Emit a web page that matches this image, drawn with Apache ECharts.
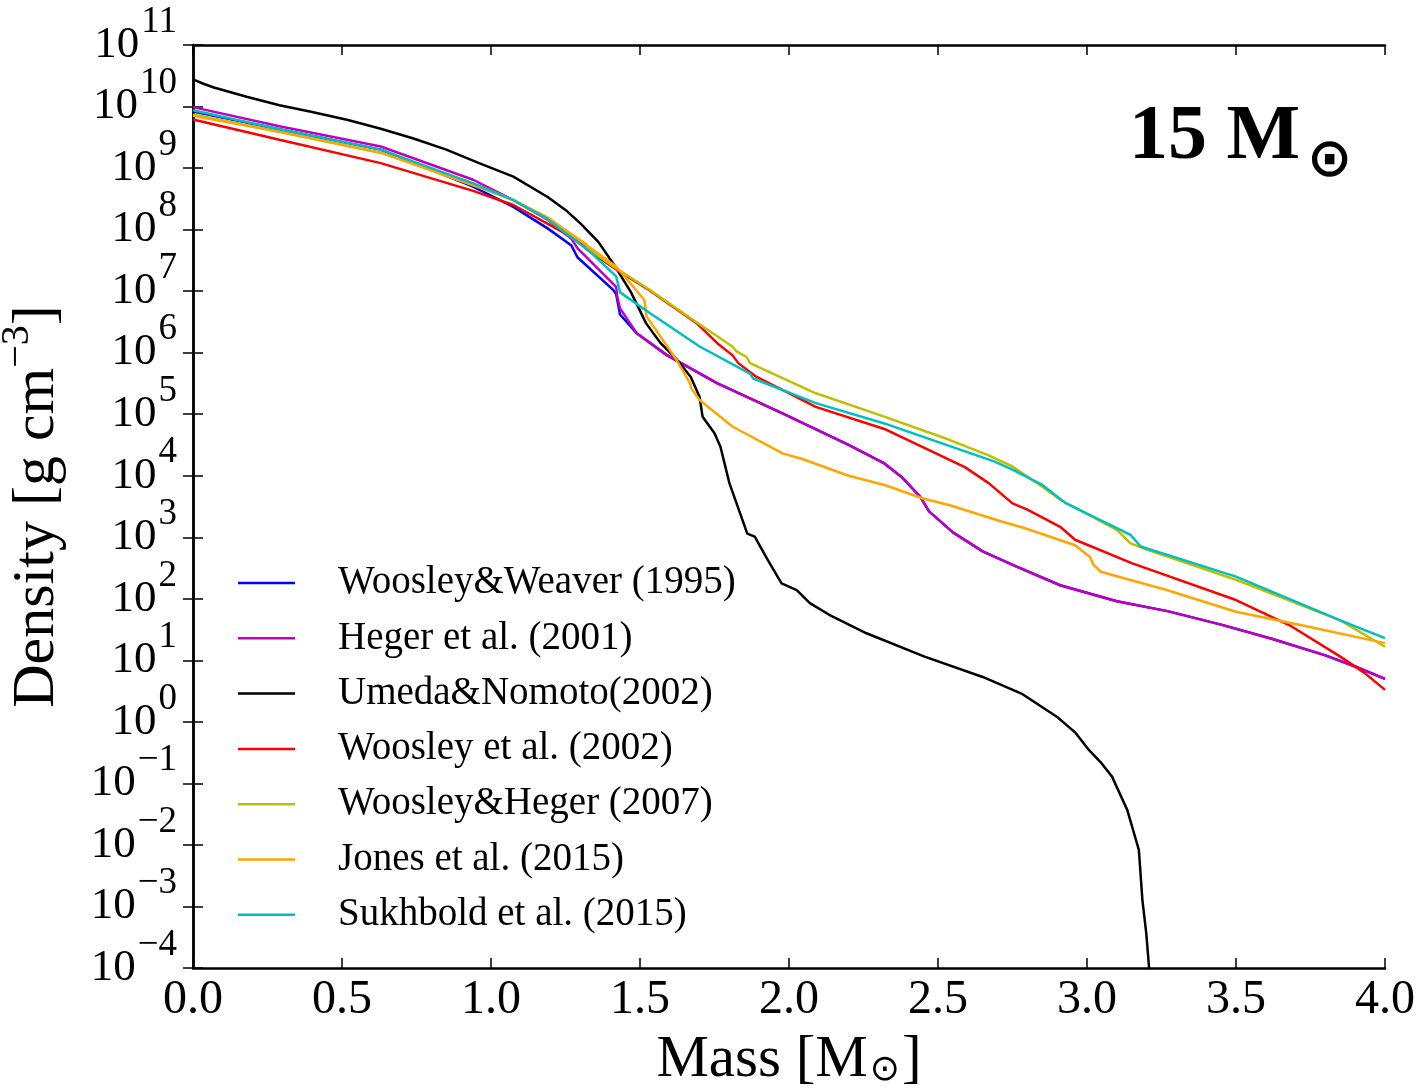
<!DOCTYPE html>
<html>
<head>
<meta charset="utf-8">
<script src="https://cdn.jsdelivr.net/npm/echarts@6/dist/echarts.min.js"></script>
<style>
html,body{margin:0;padding:0;background:#fff;}
#chart{width:1428px;height:1088px;}
</style>
</head>
<body>
<div id="chart"></div>
<script>
// ---- Data (mass in Msun, log10 of density in g cm^-3) ----
const seriesNames = ['Woosley&Weaver (1995)', 'Heger et al. (2001)', 'Umeda&Nomoto(2002)',
  'Woosley et al. (2002)', 'Woosley&Heger (2007)', 'Jones et al. (2015)', 'Sukhbold et al. (2015)'];
const seriesColors = ['#0000ff', '#bf00bf', '#000000', '#ff0000', '#bfbf00', '#ffa500', '#00bfbf'];

const ww95Mass = [0, 0.29, 0.63, 0.94, 1.075, 1.19, 1.27, 1.29, 1.41, 1.42, 1.433, 1.49, 1.59, 1.76, 1.98, 2.2, 2.32, 2.38, 2.44, 2.47, 2.55, 2.65, 2.76, 2.91, 3.1, 3.27, 3.45, 3.62, 3.8, 3.9, 4.0];
const ww95LogRho = [9.92, 9.63, 9.30, 8.70, 8.37, 8.02, 7.74, 7.55, 7.02, 6.95, 6.62, 6.31, 5.96, 5.50, 5.01, 4.50, 4.20, 3.97, 3.66, 3.42, 3.08, 2.77, 2.53, 2.22, 1.96, 1.80, 1.58, 1.35, 1.08, 0.90, 0.70];

const h01Mass = [0, 0.29, 0.63, 0.94, 1.075, 1.19, 1.27, 1.29, 1.42, 1.424, 1.433, 1.49, 1.59, 1.76, 1.98, 2.2, 2.32, 2.38, 2.44, 2.47, 2.55, 2.65, 2.76, 2.91, 3.1, 3.27, 3.45, 3.62, 3.8, 3.9, 4.0];
const h01LogRho = [9.99, 9.68, 9.35, 8.81, 8.48, 8.16, 7.85, 7.70, 7.07, 6.90, 6.72, 6.31, 5.96, 5.50, 5.01, 4.50, 4.20, 3.97, 3.66, 3.42, 3.08, 2.77, 2.53, 2.22, 1.96, 1.80, 1.58, 1.35, 1.08, 0.90, 0.70];

const un02Mass = [0, 0.035, 0.07, 0.18, 0.29, 0.40, 0.52, 0.63, 0.74, 0.85, 0.96, 1.075, 1.19, 1.25, 1.30, 1.36, 1.41, 1.47, 1.52, 1.57, 1.62, 1.67, 1.70, 1.71, 1.75, 1.77, 1.80, 1.86, 1.885, 1.93, 1.975, 2.026, 2.07, 2.135, 2.26, 2.455, 2.65, 2.78, 2.90, 2.96, 3.007, 3.05, 3.084, 3.135, 3.174, 3.186, 3.199, 3.208, 3.215];
const un02LogRho = [10.44, 10.37, 10.31, 10.16, 10.02, 9.91, 9.78, 9.64, 9.48, 9.30, 9.08, 8.86, 8.53, 8.32, 8.10, 7.80, 7.45, 6.98, 6.48, 6.15, 5.91, 5.61, 5.28, 4.96, 4.69, 4.47, 3.88, 3.06, 3.01, 2.62, 2.25, 2.14, 1.93, 1.74, 1.44, 1.06, 0.73, 0.46, 0.08, -0.17, -0.46, -0.68, -0.89, -1.43, -2.08, -2.90, -3.44, -3.98, -5.0];

const w02Mass = [0, 0.29, 0.63, 0.94, 1.075, 1.20, 1.30, 1.32, 1.43, 1.53, 1.69, 1.76, 1.81, 1.83, 1.89, 2.09, 2.32, 2.59, 2.67, 2.75, 2.80, 2.91, 2.96, 3.15, 3.5, 3.68, 3.85, 3.93, 4.0];
const w02LogRho = [9.79, 9.46, 9.08, 8.63, 8.40, 8.07, 7.80, 7.68, 7.32, 7.02, 6.48, 6.15, 5.96, 5.83, 5.61, 5.12, 4.76, 4.14, 3.88, 3.55, 3.45, 3.17, 2.96, 2.58, 1.98, 1.57, 1.06, 0.80, 0.52];

const wh07Mass = [0, 0.29, 0.63, 0.94, 1.075, 1.19, 1.32, 1.335, 1.42, 1.53, 1.67, 1.81, 1.824, 1.858, 1.869, 2.09, 2.32, 2.54, 2.67, 2.75, 2.85, 2.91, 3.1, 3.146, 3.205, 3.5, 3.85, 4.0];
const wh07LogRho = [9.87, 9.59, 9.25, 8.75, 8.48, 8.18, 7.76, 7.66, 7.37, 7.03, 6.56, 6.10, 6.02, 5.93, 5.83, 5.34, 4.96, 4.58, 4.33, 4.15, 3.82, 3.61, 3.12, 2.90, 2.79, 2.31, 1.65, 1.22];

const j15Mass = [0, 0.29, 0.63, 0.94, 1.075, 1.19, 1.42, 1.514, 1.518, 1.522, 1.623, 1.668, 1.672, 1.70, 1.81, 1.98, 2.04, 2.2, 2.32, 2.45, 2.54, 2.71, 2.79, 2.96, 3.01, 3.022, 3.046, 3.27, 3.5, 3.74, 4.0];
const j15LogRho = [9.85, 9.59, 9.25, 8.72, 8.48, 8.20, 7.40, 6.86, 6.75, 6.59, 5.88, 5.50, 5.42, 5.23, 4.80, 4.36, 4.28, 4.00, 3.85, 3.63, 3.52, 3.26, 3.15, 2.87, 2.68, 2.55, 2.44, 2.14, 1.79, 1.55, 1.28];

const s15Mass = [0, 0.29, 0.63, 0.94, 1.075, 1.19, 1.33, 1.42, 1.433, 1.534, 1.70, 1.869, 1.88, 2.09, 2.32, 2.69, 2.75, 2.85, 2.93, 3.1, 3.146, 3.18, 3.5, 3.85, 4.0];
const s15LogRho = [9.94, 9.63, 9.30, 8.75, 8.48, 8.17, 7.65, 7.24, 6.98, 6.64, 6.10, 5.66, 5.58, 5.18, 4.85, 4.23, 4.10, 3.85, 3.55, 3.15, 3.04, 2.85, 2.36, 1.65, 1.36];

const xTicks = [0, 0.5, 1.0, 1.5, 2.0, 2.5, 3.0, 3.5, 4.0];
const yExpMin = -4, yExpMax = 11;

const allMass = [ww95Mass, h01Mass, un02Mass, w02Mass, wh07Mass, j15Mass, s15Mass];
const allLogRho = [ww95LogRho, h01LogRho, un02LogRho, w02LogRho, wh07LogRho, j15LogRho, s15LogRho];

// ---- Chart ----
const SERIF = 'Liberation Serif';
const chart = echarts.init(document.getElementById('chart'), null, {renderer: 'canvas'});

function supText(e) { return e < 0 ? '\u2212' + (-e) : String(e); }

const series = seriesNames.map((name, i) => ({
  name: name,
  type: 'line',
  showSymbol: false,
  symbol: 'none',
  clip: true,
  z: 2 + i,
  lineStyle: {color: seriesColors[i], width: 2.5},
  itemStyle: {color: seriesColors[i]},
  data: allMass[i].map((m, k) => [m, Math.pow(10, allLogRho[i][k])])
}));

const frame = {show: true, lineStyle: {color: '#000', width: 2.5}};
const tickIn = {show: true, inside: true, length: 10, lineStyle: {color: '#000', width: 1.5}};

const yRich = {
  b: {fontFamily: SERIF, fontSize: 45, lineHeight: 20, padding: [16, 0, 16, 0], color: '#000'},
  s: {fontFamily: SERIF, fontSize: 37, lineHeight: 6, padding: [0, 0, 46, 2], color: '#000'}
};
// label formatter showing only exponents of one parity (the two left axes share the labels)
function yFormatter(parity) {
  return v => {
    const e = Math.round(Math.log10(v));
    if (Math.abs(e % 2) !== parity) return '';
    return '{b|10}{s|' + supText(e) + '}';
  };
}
function logAxis(extra) {
  return Object.assign({
    type: 'log', logBase: 10, min: Math.pow(10, yExpMin), max: Math.pow(10, yExpMax),
    interval: 1, splitNumber: 15, splitLine: {show: false}, minorTick: {show: false}
  }, extra);
}

const option = {
  animation: false,
  backgroundColor: '#fff',
  grid: {left: 193, right: 43, top: 45, bottom: 120, containLabel: false, outerBoundsMode: 'none'},
  title: {
    text: '{a|15 M}{o|\u2299}',
    left: 1124, top: 108,
    textStyle: {
      rich: {
        a: {fontFamily: SERIF, fontWeight: 'bold', fontSize: 78, lineHeight: 80, padding: [0, 0, 30, 0], color: '#000'},
        o: {fontFamily: 'DejaVu Sans', fontSize: 54, lineHeight: 56, padding: [36, 0, 18, 7], color: '#000'}
      }
    }
  },
  legend: {
    orient: 'vertical', left: 233, top: 558,
    icon: 'rect', itemWidth: 57, itemHeight: 2.5, itemGap: 15.3,
    data: seriesNames,
    textStyle: {fontFamily: SERIF, fontSize: 39, lineHeight: 40, color: '#000', padding: [0, 0, 0, 38]}
  },
  xAxis: [{
    type: 'value', min: 0, max: 4, interval: 0.5,
    position: 'bottom',
    axisLine: frame, axisTick: tickIn, splitLine: {show: false},
    axisLabel: {
      margin: 8, fontFamily: SERIF, fontSize: 48, color: '#000', hideOverlap: false,
      formatter: v => v.toFixed(1)
    },
    name: '{t|Mass [M}{o|\u2299}{t|]}',
    nameLocation: 'middle', nameGap: 68,
    nameTextStyle: {
      rich: {
        t: {fontFamily: SERIF, fontSize: 59, lineHeight: 60, padding: [0, 0, 12, 0], color: '#000'},
        o: {fontFamily: 'DejaVu Sans', fontSize: 36, lineHeight: 38, padding: [22, 2, 12, 2], color: '#000'}
      }
    }
  }, {
    type: 'value', min: 0, max: 4, interval: 0.5, position: 'top',
    axisLine: frame, axisTick: tickIn, axisLabel: {show: false}, splitLine: {show: false}
  }],
  yAxis: [
    logAxis({
      position: 'left', z: 3,
      axisLine: frame, axisTick: tickIn,
      axisLabel: {
        margin: 16, color: '#000', showMinLabel: true, showMaxLabel: true, hideOverlap: false,
        formatter: yFormatter(0), rich: yRich
      },
      name: '{t|Density [g cm}{s|\u22123}{t|]}',
      nameLocation: 'middle', nameGap: 130, nameRotate: 90,
      nameTextStyle: {
        rich: {
          t: {fontFamily: SERIF, fontSize: 60, lineHeight: 62, padding: [10, 0, 0, 0], color: '#000'},
          s: {fontFamily: SERIF, fontSize: 40, lineHeight: 42, padding: [0, 0, 30, 0], color: '#000'}
        }
      }
    }),
    logAxis({
      position: 'right', axisLine: frame, axisTick: tickIn, axisLabel: {show: false}
    }),
    logAxis({
      position: 'left', offset: 0,
      axisLine: {show: false}, axisTick: {show: false},
      axisLabel: {
        margin: 16, color: '#000', showMinLabel: true, showMaxLabel: true, hideOverlap: false,
        formatter: yFormatter(1), rich: yRich
      }
    })
  ],
  series: series
};
chart.setOption(option);
</script>
</body>
</html>
